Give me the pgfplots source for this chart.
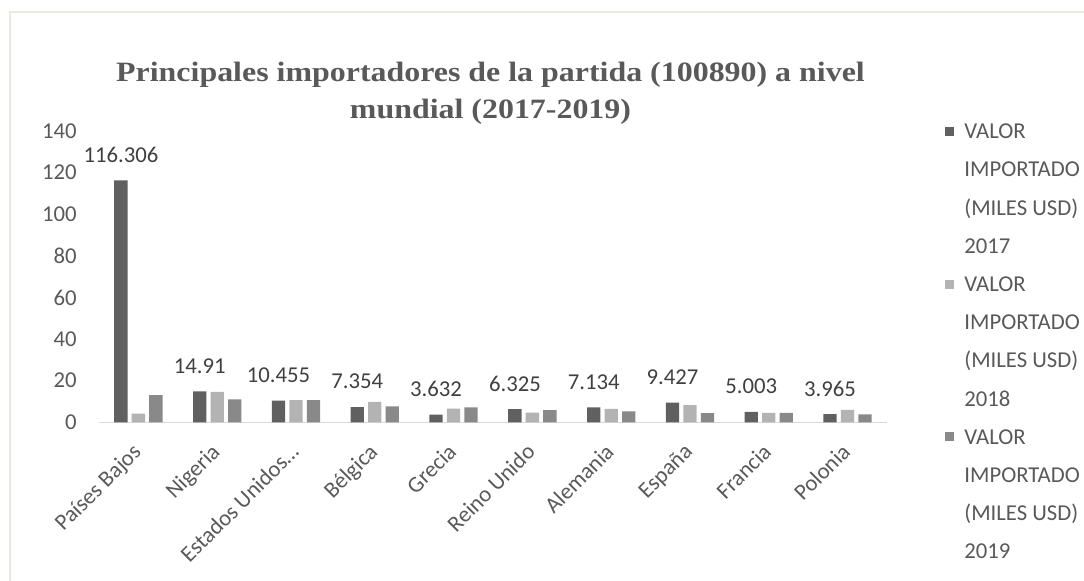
\documentclass[border=0pt]{standalone}
\usepackage{pgfplots}
\pgfplotsset{compat=1.18}
\usepackage{pgfplotstable}
\usepackage{fontspec}
\setmainfont{Carlito}
\newfontfamily\titlefont[FakeStretch=1.14]{Liberation Serif}
\definecolor{cA}{HTML}{606060}
\definecolor{cB}{HTML}{B3B3B3}
\definecolor{cC}{HTML}{898989}
\definecolor{ctext}{HTML}{595959}
\definecolor{clab}{HTML}{404040}
\definecolor{caxis}{HTML}{D9D9D9}
\definecolor{cframe}{HTML}{ECE9E0}

\pgfplotstableread{
x v17 v18 v19 lab
0 116.306 4.2 13.1 116.306
1 14.91 14.6 11.0 14.91
2 10.455 10.7 10.7 10.455
3 7.354 9.8 7.6 7.354
4 3.632 6.6 7.2 3.632
5 6.325 4.6 5.9 6.325
6 7.134 6.4 5.3 7.134
7 9.427 8.2 4.4 9.427
8 5.003 4.5 4.5 5.003
9 3.965 6.0 3.8 3.965
}\datatable

\begin{document}
\begin{tikzpicture}
\useasboundingbox (0,0) rectangle (542pt,290pt);
\draw[cframe, line width=0.8pt] (5pt,-2pt) -- (5pt,284pt) -- (545pt,284pt);
\node[font=\titlefont\bfseries\fontsize{14pt}{18pt}\selectfont, text=ctext, anchor=base, inner sep=0pt] at (245.25pt,249.15pt)
 {Principales importadores de la partida (100890) a nivel};
\node[font=\titlefont\bfseries\fontsize{14pt}{18pt}\selectfont, text=ctext, anchor=base, inner sep=0pt] at (245.25pt,230.85pt)
 {mundial (2017-2019)};
\begin{axis}[
 at={(49.5pt,78.85pt)}, anchor=south west,
 scale only axis, width=394pt, height=145.65pt,
 ymin=0, ymax=140, xmin=-0.5, xmax=9.5,
 ytick={0,20,...,140},
 xtick=data,
 xticklabels={Países Bajos,Nigeria,Estados Unidos…,Bélgica,Grecia,Reino Unido,Alemania,España,Francia,Polonia},
 axis x line*=bottom, axis y line*=left,
 x axis line style={draw=caxis, line width=0.75pt, -},
 y axis line style={draw=none},
 major tick length=0pt,
 /pgf/number format/assume math mode=true,
 tick label style={font=\fontsize{11.35pt}{13pt}\selectfont, text=ctext},
 yticklabel style={inner sep=0pt, xshift=-11pt},
 xticklabel style={xshift=-3.6pt, yshift=-6.9pt, rotate=45, anchor=north east, inner sep=2pt},
 ybar=2.1pt, bar width=6.65pt,
 clip=false,
 legend style={at={(1.0736,1.03)}, anchor=north west, draw=none, fill=none,
   font=\fontsize{11.35pt}{13pt}\selectfont, text=ctext,
   row sep=8.6pt, column sep=5pt, inner sep=0pt,
   nodes={inner sep=0pt, text height=8pt, text depth=2.5pt}},
 legend cell align=left,
 legend image code/.code={\fill[#1] (0pt,-1.35pt) rectangle (4.5pt,3.15pt);},
]
\addplot[fill=cA, draw=none, nodes near coords, point meta=explicit symbolic,
  every node near coord/.append style={font=\fontsize{11.35pt}{13pt}\selectfont, text=clab, anchor=base, yshift=9pt, inner sep=0pt}]
  table[x=x, y=v17, meta=lab] {\datatable};
\addlegendimage{empty legend}
\addlegendimage{empty legend}
\addlegendimage{empty legend}
\addplot[fill=cB, draw=none] table[x=x, y=v18] {\datatable};
\addlegendimage{empty legend}
\addlegendimage{empty legend}
\addlegendimage{empty legend}
\addplot[fill=cC, draw=none] table[x=x, y=v19] {\datatable};
\addlegendimage{empty legend}
\addlegendimage{empty legend}
\addlegendimage{empty legend}
\legend{VALOR,IMPORTADO,(MILES USD),2017,VALOR,IMPORTADO,(MILES USD),2018,VALOR,IMPORTADO,(MILES USD),2019}
\end{axis}
\end{tikzpicture}
\end{document}
